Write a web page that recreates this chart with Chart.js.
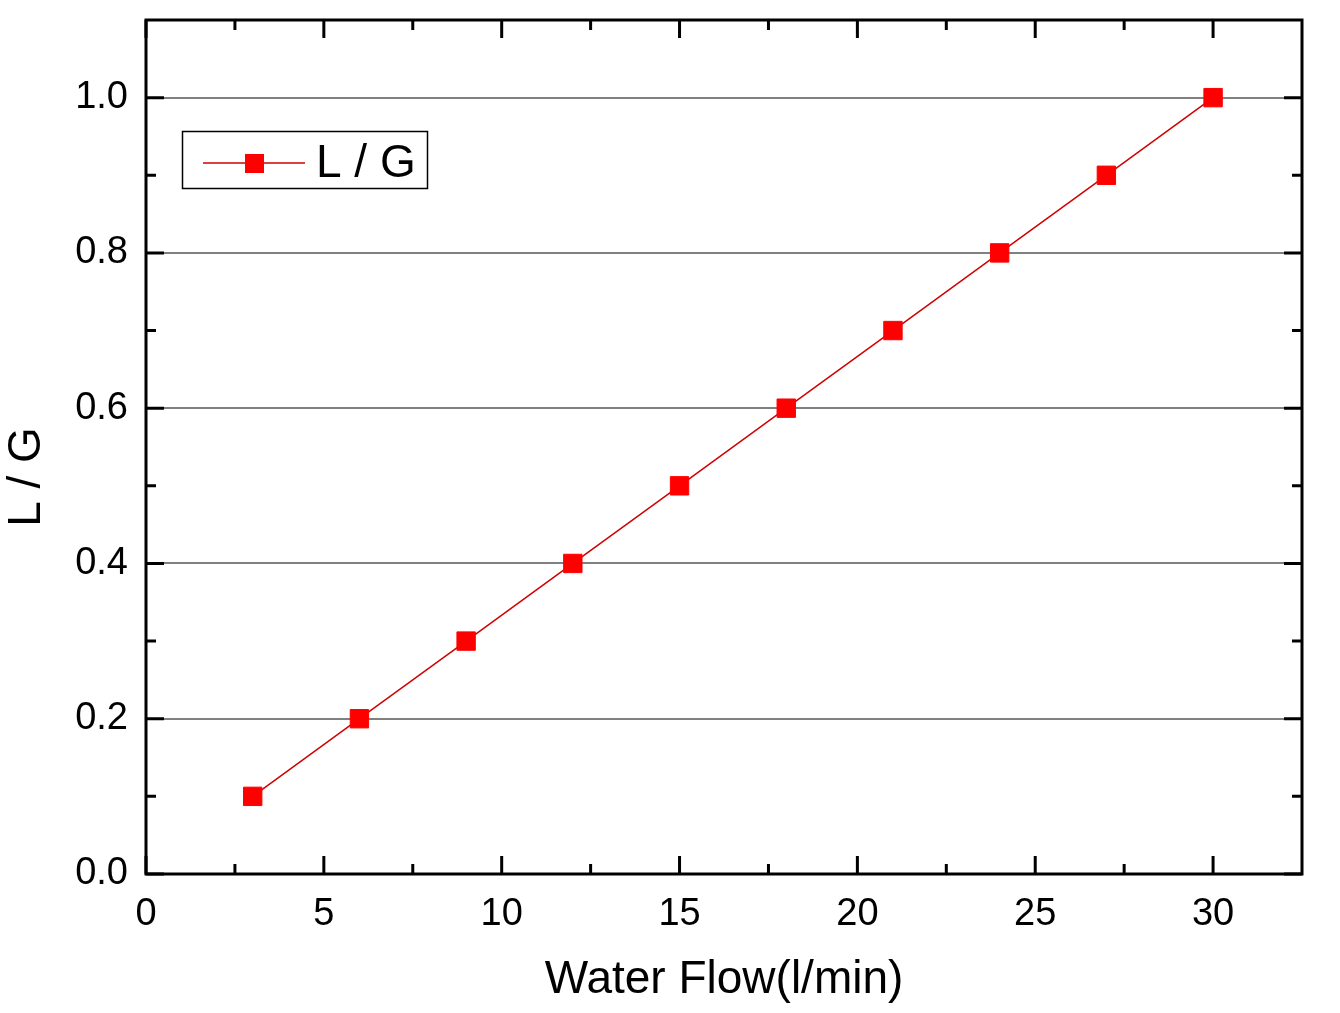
<!DOCTYPE html>
<html>
<head>
<meta charset="utf-8">
<script src="https://cdn.jsdelivr.net/npm/chart.js@4"></script>
<style>
  body { margin:0; background:#fff; }
  #wrap { width:1340px; height:1013px; position:relative; }
</style>
</head>
<body>
<div id="wrap"><canvas id="chart"></canvas></div>
<script>
// ---------- DATA ----------
const flow = [3, 6, 9, 12, 15, 18, 21, 24, 27, 30];
const ratio = [0.1, 0.2, 0.3, 0.4, 0.5, 0.6, 0.7, 0.8, 0.9, 1.0];
const xTicks = [0, 5, 10, 15, 20, 25, 30];
const yTicks = [0, 0.2, 0.4, 0.6, 0.8, 1.0];
const seriesName = "L / G";
const xTitle = "Water Flow(l/min)";
const yTitle = "L / G";

const FONT = "'Liberation Sans', Arial, sans-serif";

// ---------- FRAME, INWARD TICKS, TITLES, LEGEND ----------
const framePlugin = {
    id: "frame",
    afterDraw(chart){
        const ctx = chart.ctx;
        const a = chart.chartArea;
        const xs = chart.scales.x, ys = chart.scales.y;
        ctx.save();
        ctx.strokeStyle = "#000";
        ctx.lineWidth = 3;
        ctx.lineCap = "square";
        ctx.strokeRect(a.left, a.top, a.right - a.left, a.bottom - a.top);

        ctx.lineCap = "butt";
        ctx.beginPath();
        // x ticks major + minor, bottom and top
        for(let v = 0; v < 32.5; v += 2.5){
            const px = xs.getPixelForValue(v);
            const len = (v % 5 === 0) ? 18 : 10;
            ctx.moveTo(px, a.bottom); ctx.lineTo(px, a.bottom - len);
            ctx.moveTo(px, a.top); ctx.lineTo(px, a.top + len);
        }
        // y ticks, left and right
        for(let i = 0; i <= 10; i++){
            const py = ys.getPixelForValue(i / 10);
            const len = (i % 2 === 0) ? 18 : 10;
            ctx.moveTo(a.left, py); ctx.lineTo(a.left + len, py);
            ctx.moveTo(a.right, py); ctx.lineTo(a.right - len, py);
        }
        ctx.stroke();

        // axis titles
        ctx.fillStyle = "#000";
        ctx.font = "46px " + FONT;
        ctx.textAlign = "center";
        ctx.textBaseline = "middle";
        ctx.fillText(xTitle, (a.left + a.right) / 2, 980);
        ctx.save();
        ctx.translate(27, 477);
        ctx.rotate(-Math.PI / 2);
        ctx.fillText(yTitle, 0, 0);
        ctx.restore();

        // legend
        ctx.lineWidth = 1.5;
        ctx.strokeStyle = "#000";
        ctx.strokeRect(182.5, 131.5, 245, 57);
        ctx.strokeStyle = "#d00000";
        ctx.beginPath();
        ctx.moveTo(203, 163); ctx.lineTo(305, 163);
        ctx.stroke();
        ctx.fillStyle = "#ff0000";
        ctx.fillRect(245, 154, 19, 19);
        ctx.fillStyle = "#000";
        ctx.textAlign = "left";
        ctx.fillText(seriesName, 316, 164);
        ctx.restore();
    }
};

// ---------- CHART ----------
function initChart(){
    const ctx = document.getElementById("chart");
    new Chart(ctx, {
        type: "line",
        data: {
            datasets: [{
                label: seriesName,
                data: flow.map((x, i) => ({ x: x, y: ratio[i] })),
                borderColor: "#d00000",
                borderWidth: 1.5,
                backgroundColor: "#ff0000",
                pointStyle: "rect",
                pointRadius: 13,
                pointBorderWidth: 1,
                pointBorderColor: "#ff0000",
                pointBackgroundColor: "#ff0000",
                tension: 0,
                fill: false
            }]
        },
        options: {
            responsive: true,
            maintainAspectRatio: false,
            animation: false,
            layout: { autoPadding: false, padding: { top: 20, right: 38, left: 0, bottom: 0 } },
            plugins: { legend: { display: false }, tooltip: { enabled: false } },
            scales: {
                x: {
                    type: "linear",
                    min: 0, max: 32.5,
                    afterBuildTicks: s => { s.ticks = xTicks.map(v => ({ value: v })); },
                    afterFit: s => { s.height = 139; },
                    grid: { display: false, drawTicks: false },
                    border: { display: false },
                    ticks: {
                        padding: 18,
                        color: "#000",
                        font: { family: FONT, size: 38 },
                        maxRotation: 0
                    }
                },
                y: {
                    min: 0, max: 1.1,
                    afterBuildTicks: s => { s.ticks = yTicks.map(v => ({ value: v })); },
                    afterFit: s => { s.width = 146; s.paddingTop = 0; s.paddingBottom = 0; },
                    grid: {
                        drawTicks: false,
                        lineWidth: 2,
                        color: c => c.tick && c.tick.value === 0 ? "rgba(0,0,0,0)" : "#808080"
                    },
                    border: { display: false },
                    ticks: {
                        padding: 18,
                        color: "#000",
                        font: { family: FONT, size: 38 },
                        callback: v => v.toFixed(1)
                    }
                }
            }
        },
        plugins: [framePlugin]
    });
}

document.addEventListener("DOMContentLoaded", initChart);
</script>
</body>
</html>
